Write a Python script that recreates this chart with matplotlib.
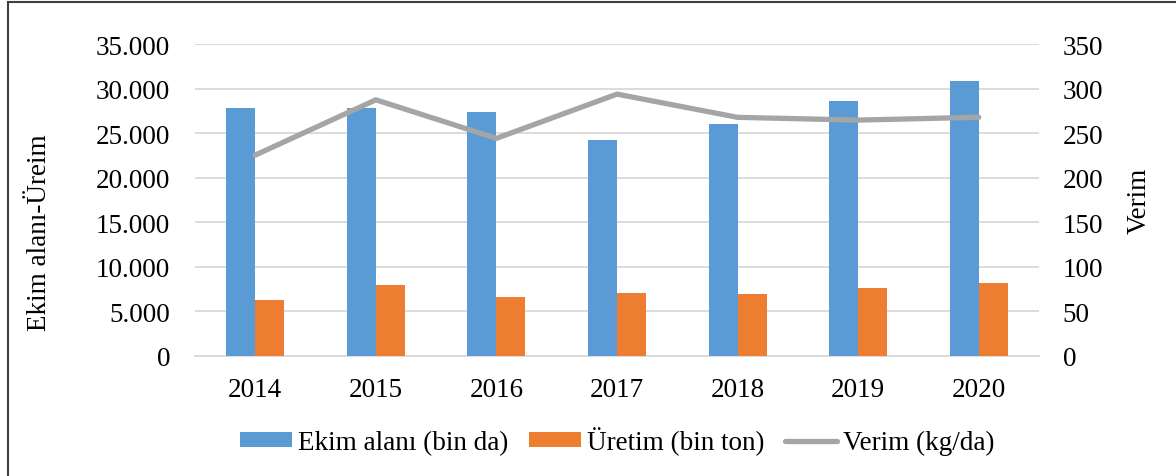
import matplotlib
matplotlib.use("Agg")
import matplotlib.pyplot as plt
from matplotlib.lines import Line2D
from matplotlib.ticker import FuncFormatter, MultipleLocator
import numpy as np

years = ["2014", "2015", "2016", "2017", "2018", "2019", "2020"]
ekim_alani = [27830, 27800, 27350, 24200, 26030, 28620, 30900]
uretim = [6220, 7940, 6630, 7040, 6930, 7570, 8200]
verim = [225.5, 287.6, 244.3, 294.0, 267.9, 264.8, 268.0]

blue = "#5B9BD5"
orange = "#ED7D31"
gray = "#A5A5A5"
grid_c = "#D9D9D9"

plt.rcParams['font.family'] = ['Liberation Serif', 'DejaVu Serif']
FS = 19.5

fig = plt.figure(figsize=(11.76, 4.77), dpi=100)
ax = fig.add_axes([195/1176, 1-356.7/477, (1039-195)/1176, (356.7-45.3)/477])
ax2 = ax.twinx()

x = np.arange(len(years))
w = 0.24
ax.bar(x - w/2, ekim_alani, w, color=blue, label="Ekim alanı (bin da)", zorder=3)
ax.bar(x + w/2, uretim, w, color=orange, label="Üretim (bin ton)", zorder=3)
ax2.plot(x, verim, color=gray, lw=3.8, label="Verim (kg/da)", solid_capstyle='round', zorder=4)

ax.set_xlim(-0.5, len(years) - 0.5)
ax.set_ylim(0, 35000)
ax2.set_ylim(0, 350)
ax.yaxis.set_major_locator(MultipleLocator(5000))
ax2.yaxis.set_major_locator(MultipleLocator(50))
ax.yaxis.set_major_formatter(FuncFormatter(lambda v, p: f"{int(v):,}".replace(",", ".")))
ax.set_xticks(x)
ax.set_xticklabels(years)

ax.grid(axis='y', color=grid_c, lw=1.3, zorder=0)
for a in (ax, ax2):
    for s in a.spines.values():
        s.set_visible(False)
    a.tick_params(length=0, labelsize=FS, colors='black')
ax.spines['bottom'].set_visible(True)
ax.spines['bottom'].set_color(grid_c)
ax.spines['bottom'].set_linewidth(1.3)
ax.tick_params(axis='y', pad=18)
ax.tick_params(axis='x', pad=15)
ax2.tick_params(axis='y', pad=17)

ax.set_ylabel("Ekim alanı-Üreim", fontsize=FS)
ax2.set_ylabel("Verim", fontsize=FS)
ax.yaxis.set_label_coords((52-195)/844, (356.7-233)/311.4)
ax2.yaxis.set_label_coords((1127-195)/844, 0.5)

h1, l1 = ax.get_legend_handles_labels()
h2, l2 = ax2.get_legend_handles_labels()
fig.legend(h1 + h2, l1 + l2, loc='center', bbox_to_anchor=(617/1176, 1-441.7/477), ncol=3,
           frameon=False, fontsize=FS, handlelength=1.95, handleheight=0.45,
           columnspacing=0.75, handletextpad=0.2)

fig.add_artist(Line2D([8/1176, 8/1176], [0, 1-2.5/477], color='#404040', lw=1.5, transform=fig.transFigure))
fig.add_artist(Line2D([8/1176, 1], [1-2.5/477, 1-2.5/477], color='#404040', lw=1.5, transform=fig.transFigure))

fig.savefig("out.png", dpi=100)
